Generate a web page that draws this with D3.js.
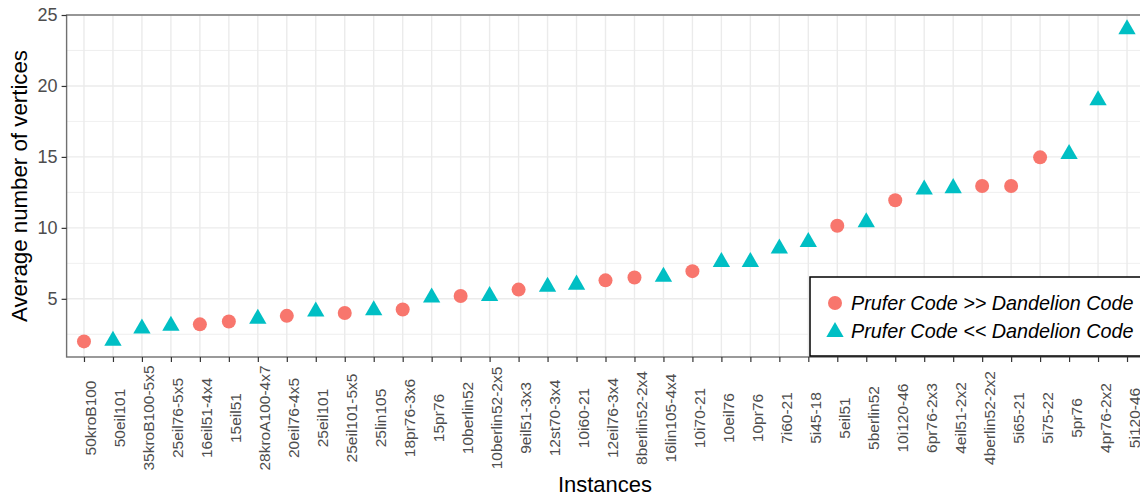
<!DOCTYPE html>
<html>
<head>
<meta charset="utf-8">
<script src="https://cdn.jsdelivr.net/npm/d3@7"></script>
<style>
  html, body { margin: 0; padding: 0; background: #fff; }
  svg { display: block; font-family: "Liberation Sans", Arial, sans-serif; }
</style>
</head>
<body>
<svg id="chart" width="1140" height="499"></svg>
<script>
const instances = ["50kroB100","50eil101","35kroB100-5x5","25eil76-5x5","16eil51-4x4","15eil51","28kroA100-4x7","20eil76-4x5","25eil101","25eil101-5x5","25lin105","18pr76-3x6","15pr76","10berlin52","10berlin52-2x5","9eil51-3x3","12st70-3x4","10i60-21","12eil76-3x4","8berlin52-2x4","16lin105-4x4","10i70-21","10eil76","10pr76","7i60-21","5i45-18","5eil51","5berlin52","10i120-46","6pr76-2x3","4eil51-2x2","4berlin52-2x2","5i65-21","5i75-22","5pr76","4pr76-2x2","5i120-46"];
const avgVertices = [2.0,2.05,2.9,3.1,3.2,3.4,3.6,3.8,4.1,4.0,4.2,4.25,5.1,5.2,5.2,5.65,5.85,6.0,6.3,6.5,6.55,6.95,7.6,7.6,8.55,9.0,10.15,10.4,11.95,12.7,12.8,12.95,12.95,14.97,15.2,19.0,24.0];
const groups = ["P","D","D","D","P","P","D","P","D","P","D","P","D","P","D","P","D","D","P","P","D","P","D","D","D","D","P","D","P","D","D","P","P","P","D","D","D"];
const legendLabels = ["Prufer Code >> Dandelion Code", "Prufer Code << Dandelion Code"];
const yTicks = [5,10,15,20,25];
const yMinor = [2.5,7.5,12.5,17.5,22.5];

const svg = d3.select("#chart");
const L = 66.6, R = 1144.4, T = 15, B = 357;
const red = "#F8766D", teal = "#00BFC4";

const x = d3.scalePoint().domain(instances).range([L, R]).padding(0.6);
const y = d3.scaleLinear().domain([0.9, 25.0]).range([B, T]);

// background
svg.append("rect").attr("x", L).attr("y", T).attr("width", R - L).attr("height", B - T).attr("fill", "#fff");

// grid
const grid = svg.append("g");
grid.selectAll(".ymin").data(yMinor).join("line")
  .attr("x1", L).attr("x2", R).attr("y1", d => y(d)).attr("y2", d => y(d))
  .attr("stroke", "#EBEBEB").attr("stroke-width", 0.8);
grid.selectAll(".ymaj").data(yTicks).join("line")
  .attr("x1", L).attr("x2", R).attr("y1", d => y(d)).attr("y2", d => y(d))
  .attr("stroke", "#EBEBEB").attr("stroke-width", 1.4);
grid.selectAll(".xmaj").data(instances).join("line")
  .attr("x1", d => x(d)).attr("x2", d => x(d)).attr("y1", T).attr("y2", B)
  .attr("stroke", "#EBEBEB").attr("stroke-width", 1.4);

// points
const data = instances.map((d, i) => ({ name: d, v: avgVertices[i], g: groups[i] }));
svg.append("g").selectAll("circle").data(data.filter(d => d.g === "P")).join("circle")
  .attr("cx", d => x(d.name)).attr("cy", d => y(d.v)).attr("r", 7).attr("fill", red);
const tri = d3.symbol().type(d3.symbolTriangle).size(130);
svg.append("g").selectAll("path").data(data.filter(d => d.g === "D")).join("path")
  .attr("d", tri).attr("transform", d => `translate(${x(d.name)},${y(d.v)})`).attr("fill", teal);

// panel border
svg.append("rect").attr("x", L).attr("y", T).attr("width", R - L).attr("height", B - T)
  .attr("fill", "none").attr("stroke", "#707070").attr("stroke-width", 1.4);

// axes
const yAxis = svg.append("g").attr("transform", `translate(${L},0)`)
  .call(d3.axisLeft(y).tickValues(yTicks).tickSize(5).tickPadding(4));
yAxis.select(".domain").remove();
yAxis.selectAll(".tick line").attr("stroke", "#333").attr("stroke-width", 1.2);
yAxis.selectAll(".tick text").attr("fill", "#4D4D4D").style("font-size", "18px")
  .style("font-family", "Liberation Sans, Arial, sans-serif");

const xAxis = svg.append("g").attr("transform", `translate(0,${B})`)
  .call(d3.axisBottom(x).tickSize(5).tickPadding(3));
xAxis.select(".domain").remove();
xAxis.selectAll(".tick line").attr("stroke", "#333").attr("stroke-width", 1.2);
xAxis.selectAll(".tick text")
  .attr("fill", "#4D4D4D").style("font-size", "15.5px")
  .style("font-family", "Liberation Sans, Arial, sans-serif")
  .attr("text-anchor", "middle").attr("dy", null)
  .attr("transform", "translate(12,61) rotate(-90)")
  .attr("x", 0).attr("y", 0);

// titles
svg.append("text").attr("x", (L + R) / 2 - 0.5).attr("y", 492).attr("text-anchor", "middle")
  .style("font-size", "22px").attr("fill", "#000").text("Instances");
svg.append("text").attr("transform", `translate(27,${(T + B) / 2}) rotate(-90)`).attr("text-anchor", "middle")
  .style("font-size", "22px").attr("fill", "#000")
  .attr("textLength", 272).attr("lengthAdjust", "spacingAndGlyphs")
  .text("Average number of vertices");

// legend
const lg = svg.append("g");
lg.append("rect").attr("x", 810).attr("y", 277).attr("width", 345).attr("height", 79)
  .attr("fill", "#fff").attr("stroke", "#000").attr("stroke-width", 1.5);
lg.append("circle").attr("cx", 835).attr("cy", 303).attr("r", 7).attr("fill", red);
lg.append("path").attr("d", tri).attr("transform", "translate(835,332)").attr("fill", teal);
lg.selectAll("text.lt").data(legendLabels).join("text")
  .attr("x", 851).attr("y", (d, i) => 310 + i * 28)
  .style("font-size", "19.8px").style("font-style", "italic").attr("fill", "#000")
  .text(d => d);
</script>
</body>
</html>
